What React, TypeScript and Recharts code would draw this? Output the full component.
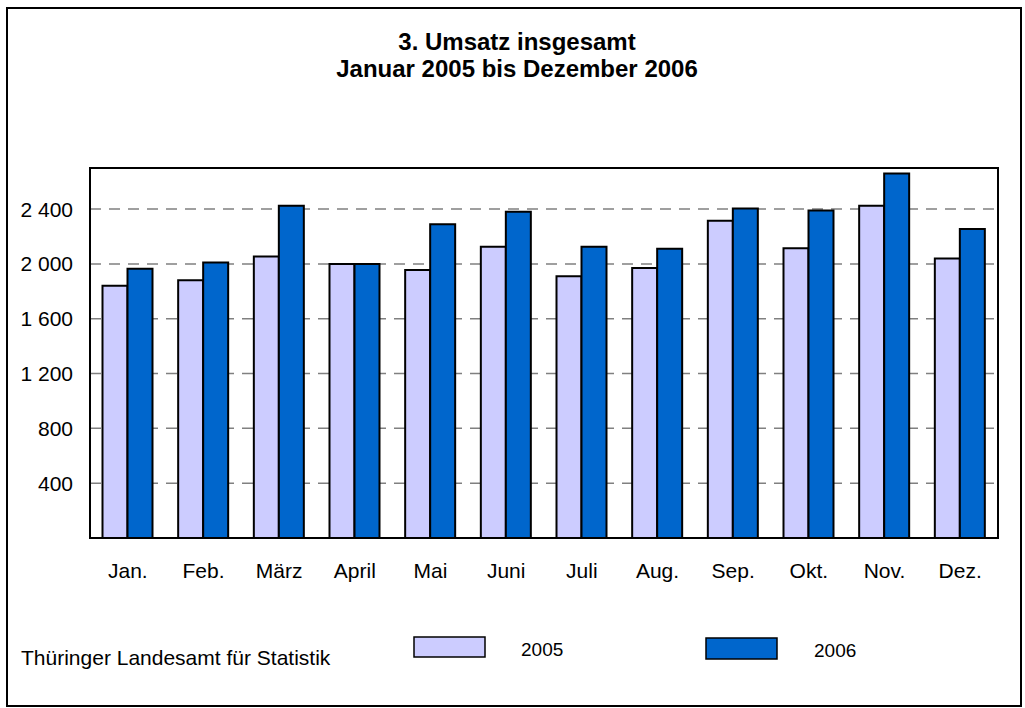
import React from 'react';
import { BarChart, Bar, XAxis, YAxis, CartesianGrid, ReferenceArea } from 'recharts';

const months = ['Jan.', 'Feb.', 'März', 'April', 'Mai', 'Juni', 'Juli', 'Aug.', 'Sep.', 'Okt.', 'Nov.', 'Dez.'];
const umsatz2005 = [1840, 1880, 2055, 2000, 1955, 2125, 1910, 1970, 2315, 2115, 2425, 2040];
const umsatz2006 = [1965, 2010, 2425, 2000, 2290, 2380, 2125, 2110, 2405, 2390, 2660, 2255];
const yTicks = [400, 800, 1200, 1600, 2000, 2400];
const yMax = 2700;
const titleLines = ['3. Umsatz insgesamt', 'Januar 2005 bis Dezember 2006'];
const sourceText = 'Thüringer Landesamt für Statistik';
const seriesNames = ['2005', '2006'];

const data = months.map((m, i) => ({ m, a: umsatz2005[i], b: umsatz2006[i] }));

const FONT = '"Liberation Sans", Arial, sans-serif';
const C2005 = '#CCCCFF';
const C2006 = '#0066CC';

const fmt = (v: number) => String(v).replace(/\B(?=(\d{3})+(?!\d))/g, ' ');

export default function App() {
  return (
    <div style={{ position: 'absolute', left: 0, top: 0, width: 1025, height: 708, background: '#fff' }}>
      <div style={{ position: 'absolute', left: 0, top: 0 }}>
        <BarChart
          width={1025}
          height={708}
          data={data}
          margin={{ top: 168, right: 27, bottom: 140, left: 0 }}
          barCategoryGap={12.5}
          barGap={0}
        >
          <CartesianGrid horizontal vertical={false} stroke="#808080" strokeDasharray="11 8" strokeWidth={1.5} />
          <XAxis
            dataKey="m"
            height={30}
            tickLine={false}
            tickSize={0}
            tickMargin={25}
            axisLine={{ stroke: '#000', strokeWidth: 2 }}
            tick={{ fill: '#000', fontSize: 21, fontFamily: FONT }}
            interval={0}
          />
          <YAxis
            width={90}
            domain={[0, yMax]}
            ticks={yTicks}
            tickFormatter={fmt}
            tickLine={false}
            tickSize={0}
            tickMargin={17}
            axisLine={{ stroke: '#000', strokeWidth: 2 }}
            tick={{ fill: '#000', fontSize: 21, fontFamily: FONT }}
            allowDataOverflow
          />
          <ReferenceArea
            x1={months[0]}
            x2={months[months.length - 1]}
            y1={0}
            y2={yMax}
            fill="#fff"
            fillOpacity={0}
            stroke="#000"
            strokeWidth={2}
            ifOverflow="visible"
          />
          <Bar dataKey="a" name={seriesNames[0]} fill={C2005} stroke="#000" strokeWidth={2} isAnimationActive={false} />
          <Bar dataKey="b" name={seriesNames[1]} fill={C2006} stroke="#000" strokeWidth={2} isAnimationActive={false} />
        </BarChart>
      </div>
      <svg
        width={1025}
        height={708}
        style={{ position: 'absolute', left: 0, top: 0, pointerEvents: 'none' }}
      >
        <rect x={7} y={8} width={1014} height={698} fill="none" stroke="#000" strokeWidth={2} />
        <text x={517} y={50} textAnchor="middle" fontFamily={FONT} fontSize={24} fontWeight="bold" fill="#000">
          {titleLines[0]}
        </text>
        <text x={517} y={77} textAnchor="middle" fontFamily={FONT} fontSize={24} fontWeight="bold" fill="#000">
          {titleLines[1]}
        </text>
        <text x={21} y={665} fontFamily={FONT} fontSize={21} fill="#000">
          {sourceText}
        </text>
        <rect x={414} y={637} width={71} height={20} fill={C2005} stroke="#000" strokeWidth={1.5} />
        <text x={521} y={656} fontFamily={FONT} fontSize={19} fill="#000">
          {seriesNames[0]}
        </text>
        <rect x={706} y={638} width={71} height={21} fill={C2006} stroke="#000" strokeWidth={1.5} />
        <text x={814} y={657} fontFamily={FONT} fontSize={19} fill="#000">
          {seriesNames[1]}
        </text>
      </svg>
    </div>
  );
}
